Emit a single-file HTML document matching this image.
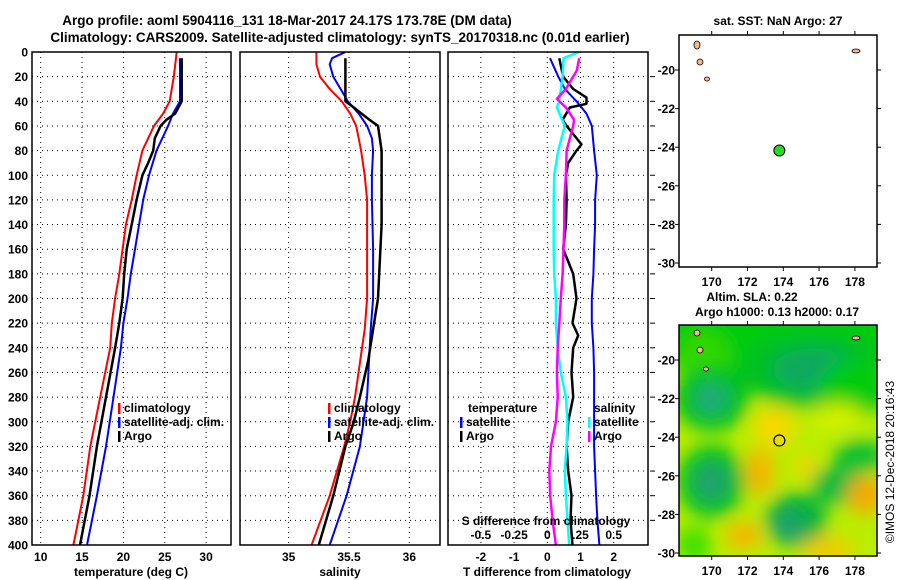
<!DOCTYPE html>
<html><head><meta charset="utf-8">
<style>
html,body{margin:0;padding:0;background:#fff;}
svg{display:block;font-family:"Liberation Sans",Arial,sans-serif;font-weight:bold;}
</style></head>
<body>
<svg id="fig" width="900" height="580" viewBox="0 0 900 580" xmlns="http://www.w3.org/2000/svg">
<defs>
<clipPath id="c1"><rect x="32" y="52" width="199" height="493"/></clipPath>
<clipPath id="c2"><rect x="240" y="52" width="200" height="493"/></clipPath>
<clipPath id="c3"><rect x="448" y="52" width="200" height="493"/></clipPath>
<clipPath id="cm"><rect x="679" y="325" width="198" height="231"/></clipPath>
<filter id="blur" x="-50%" y="-50%" width="200%" height="200%"><feGaussianBlur stdDeviation="9"/></filter>
</defs>
</svg>
<script>
// ---------- data ----------
const depthTicks=[0,20,40,60,80,100,120,140,160,180,200,220,240,260,280,300,320,340,360,380,400];
const tempTicks=[10,15,20,25,30];
const salTicks=[35,35.5,36];
const tdiffTicks=[-2,-1,0,1,2];
const sdiffTicks=[-0.5,-0.25,0,0.25,0.5];
const sdiffLabels=["-0.5","-0.25","0",".25","0.5"];

const climTDepth=[0,20,40,50,60,80,100,120,140,160,180,200,220,240,280,320,360,400];
const climT=[26.45,26.1,25.6,24.8,23.7,22.3,21.6,21.0,20.3,19.9,19.5,19.0,18.6,18.4,17.2,16.0,15.15,13.95];
const satTDepth=[5,40,50,60,80,100,120,140,160,180,200,220,240,280,320,360,400];
const satT=[26.85,26.85,26.0,25.4,24.0,23.1,22.4,21.9,21.4,20.9,20.5,20.0,19.7,18.8,17.9,16.8,15.6];
const argoTDepth=[5,40,50,55,60,70,80,90,100,120,140,160,180,200,220,240,280,320,360,400];
const argoT=[27.05,27.05,26.25,25.2,24.5,23.8,23.6,23.0,22.3,21.6,21.0,20.4,20.1,19.9,19.5,19.0,17.9,16.8,15.9,14.75];

const climSDepth=[0,10,20,30,40,50,60,80,100,120,160,200,225,280,300,320,360,400];
const climS=[35.23,35.23,35.26,35.34,35.44,35.51,35.56,35.60,35.63,35.65,35.65,35.65,35.63,35.55,35.51,35.46,35.34,35.19];
const satSDepth=[0,5,10,20,30,40,50,60,70,80,100,120,160,200,225,280,300,320,360,400];
const satS=[35.47,35.36,35.34,35.37,35.43,35.49,35.58,35.65,35.69,35.70,35.69,35.69,35.70,35.70,35.68,35.65,35.62,35.59,35.48,35.34];
const argoSDepth=[5,40,45,55,60,80,140,160,200,225,250,280,300,320,360,400];
const argoS=[35.47,35.47,35.54,35.67,35.74,35.77,35.77,35.76,35.74,35.70,35.66,35.59,35.54,35.47,35.37,35.25];

const diffDepth=[5,20,30,40,50,60,80,100,120,140,160,180,200,220,240,260,280,300,320,340,360,380,400];
const satTDiff=[0.08,0.33,0.53,0.88,1.18,1.34,1.41,1.49,1.44,1.44,1.41,1.39,1.34,1.34,1.39,1.41,1.41,1.41,1.41,1.44,1.47,1.51,1.57];
const argoTDiffDepth=[5,20,30,37,42,45,55,60,75,80,90,100,120,140,160,170,180,200,220,230,240,260,280,300,320,340,360,380,400];
const argoTDiff=[0.36,0.48,0.78,1.18,1.18,0.68,0.46,0.58,1.03,0.88,0.63,0.56,0.58,0.56,0.48,0.63,0.78,0.88,0.76,0.93,0.78,0.73,0.78,0.63,0.58,0.63,0.73,0.70,0.76];
const satSDiffDepth=[0,5,20,40,45,60,80,100,120,140,160,180,200,220,240,260,280,300,320,340,360,380,400];
const satSDiff=[0.24,0.122,0.115,0.09,0.072,0.132,0.082,0.052,0.048,0.048,0.048,0.052,0.065,0.065,0.078,0.102,0.14,0.152,0.145,0.132,0.14,0.152,0.165];
const argoSDiffDepth=[5,15,30,38,45,55,60,80,100,120,140,160,180,200,220,240,260,280,300,320,340,360,380,400];
const argoSDiff=[0.24,0.222,0.14,0.072,0.14,0.202,0.195,0.145,0.14,0.128,0.128,0.122,0.115,0.102,0.09,0.078,0.072,0.078,0.065,0.028,0.015,0.022,0.04,0.065];

const lonTicks=[170,172,174,176,178];
const latTicks=[-20,-22,-24,-26,-28,-30];
const argoLon=173.78, argoLat=-24.17;
const slaBase="#b8ee00";
const blobLon=[174,169.5,175.6,175.8,170,170,178,170,170,178.3,177,174.7,174.3,169,173.5,172.7,171.8,178.6,176.5,175.3,177];
const blobLat=[-18.9,-20,-20.5,-20.5,-22,-22,-21.5,-26.3,-26.3,-25,-26.5,-28.3,-28.6,-29.6,-23.5,-25.8,-29.1,-27,-29.8,-25.5,-23];
const blobRx=[8,1.5,4,2.4,2.1,0.9,2,1.9,1,1.5,1.4,1.7,0.8,1,1.2,0.8,1,1,1.5,0.6,1.5];
const blobRy=[2.2,1.5,2,1.1,1.7,0.8,1.5,1.9,1,0.9,1,1.4,0.8,1,1,1.2,0.7,1,0.6,0.6,0.8];
const blobCol=["#00cc10","#30d800","#00c020","#10a860","#00c020","#20a880","#00cc10","#00c020","#20a070","#10c030","#00b840","#00b040","#20a070","#40e000","#f8d800","#f8b400","#f8b400","#f8a800","#f8c800","#f8d000","#d0f000"];

// ---------- scales ----------
const Y=d=>52+d*1.2325;
const TX=t=>40.7+(t-10)*8.27;
const SX=s=>349+(s-35.5)*120.7;
const DX=v=>547.3+v*33.2;
const SDX=v=>547.3+v*4*33.2;
const LONX=l=>711.7+(l-170)*17.9;
const LATY1=l=>70+(-20-l)*19.3;
const LATY2=l=>360+(-20-l)*19.3;

const NS="http://www.w3.org/2000/svg";
const svg=document.getElementById('fig');
function mk(tag,attrs,parent,text){const e=document.createElementNS(NS,tag);for(const k in attrs)e.setAttribute(k,attrs[k]);if(text!==undefined)e.textContent=text;(parent||svg).appendChild(e);return e;}
function txt(x,y,s,anchor,size,parent){return mk('text',{x:x,y:y,'text-anchor':anchor||'middle','font-size':size||12,fill:'#000'},parent,s);}
function poly(xs,ys,color,w,clip,name){const pts=xs.map((x,i)=>x.toFixed(1)+','+ys[i].toFixed(1)).join(' ');
  const p=mk('polyline',{points:pts,fill:'none',stroke:color,'stroke-width':w,'clip-path':'url(#'+clip+')','stroke-linejoin':'round'});
  
  
  return p;}

// titles
let t=txt(287,25,"Argo profile: aoml 5904116_131 18-Mar-2017 24.17S 173.78E (DM data)",'middle',13.5);


t=txt(340,42,"Climatology: CARS2009. Satellite-adjusted climatology: synTS_20170318.nc (0.01d earlier)",'middle',13.5);



// panels
const panels=[{x:32,w:199,clip:'c1',name:'temperature-panel'},{x:240,w:200,clip:'c2',name:'salinity-panel'},{x:448,w:200,clip:'c3',name:'difference-panel'}];
panels.forEach(p=>{
  const g=mk('g',{});
  
  
  depthTicks.forEach(d=>{ if(d>0&&d<400) mk('line',{x1:p.x,x2:p.x+p.w,y1:Y(d),y2:Y(d),stroke:'#000','stroke-width':1,'stroke-dasharray':'1,4'},g); });
  p.g=g;
});
tempTicks.forEach(v=>mk('line',{x1:TX(v),x2:TX(v),y1:52,y2:545,stroke:'#000','stroke-dasharray':'1,4'},panels[0].g));
salTicks.forEach(v=>mk('line',{x1:SX(v),x2:SX(v),y1:52,y2:545,stroke:'#000','stroke-dasharray':'1,4'},panels[1].g));
tdiffTicks.forEach(v=>mk('line',{x1:DX(v),x2:DX(v),y1:52,y2:545,stroke:'#000','stroke-dasharray':'1,4'},panels[2].g));
// right ticks of diff panel
depthTicks.forEach(d=>{ if(d>0&&d<400) mk('line',{x1:650,x2:655,y1:Y(d),y2:Y(d),stroke:'#000','stroke-width':1}); });

// depth labels
depthTicks.forEach(d=>{const e=txt(28,Y(d)+4.5,String(d),'end',12);
  
  });
tempTicks.forEach(v=>{const e=txt(TX(v),561,String(v),'middle',12);
  
  });
salTicks.forEach(v=>{const e=txt(SX(v),561,String(v),'middle',12);
  
  });
tdiffTicks.forEach(v=>{const e=txt(DX(v),561,String(v),'middle',12);
  
  });
t=txt(131,576,"temperature (deg C)",'middle',12);


t=txt(340,576,"salinity",'middle',12);


t=txt(547,576,"T difference from climatology",'middle',12);



// series
poly(climT.map(TX),climTDepth.map(Y),'#ff0000',2,'c1','temp-climatology-line');
poly(satT.map(TX),satTDepth.map(Y),'#0000ff',2,'c1','temp-satellite-line');
poly(argoT.map(TX),argoTDepth.map(Y),'#000',2.5,'c1','temp-argo-line');
poly(climS.map(SX),climSDepth.map(Y),'#ff0000',2,'c2','sal-climatology-line');
poly(satS.map(SX),satSDepth.map(Y),'#0000ff',2,'c2','sal-satellite-line');
poly(argoS.map(SX),argoSDepth.map(Y),'#000',2.5,'c2','sal-argo-line');
poly(satTDiff.map(DX),diffDepth.map(Y),'#0000ff',2,'c3','tdiff-satellite-line');
poly(argoTDiff.map(DX),argoTDiffDepth.map(Y),'#000',2.5,'c3','tdiff-argo-line');
poly(satSDiff.map(SDX),satSDiffDepth.map(Y),'#00ffff',2.5,'c3','sdiff-satellite-line');
poly(argoSDiff.map(SDX),argoSDiffDepth.map(Y),'#ff00ff',2.5,'c3','sdiff-argo-line');

// frames
panels.forEach(p=>{const r=mk('rect',{x:p.x,y:52,width:p.w,height:493,fill:'none',stroke:'#000','stroke-width':1.5});
  
  });

// legends
function legend(x,y,color,label,name){
  const g=mk('g',{});
  
  
  mk('rect',{x:x,y:y-9,width:2.5,height:11,fill:color},g);
  txt(x+6,y,label,'start',12,g);
}
legend(118,412,'#ff0000','climatology','legend-climatology');
legend(118,426,'#0000ff','satellite-adj. clim.','legend-satellite-adj');
legend(118,440,'#000','Argo','legend-argo');
legend(328,412,'#ff0000','climatology','legend-sal-climatology');
legend(328,426,'#0000ff','satellite-adj. clim.','legend-sal-satellite-adj');
legend(328,440,'#000','Argo','legend-sal-argo');
t=txt(468,412,'temperature','start',12);


t=txt(594,412,'salinity','start',12);


legend(460,426,'#0000ff','satellite','legend-tdiff-satellite');
legend(460,440,'#000','Argo','legend-tdiff-argo');
legend(588,426,'#00ffff','satellite','legend-sdiff-satellite');
legend(588,440,'#ff00ff','Argo','legend-sdiff-argo');
t=txt(546,525,'S difference from climatology','middle',12);


sdiffTicks.forEach((v,i)=>{const e=txt(SDX(v),539,sdiffLabels[i],'middle',12);
  
  });

// maps
function mapAxes(top,bottom,latY,name){
  const g=mk('g',{});
  
  
  mk('rect',{x:679,y:top,width:198,height:bottom-top,fill:'none',stroke:'#000','stroke-width':1.5},g);
  lonTicks.forEach(l=>{mk('line',{x1:LONX(l),x2:LONX(l),y1:top-4,y2:top,stroke:'#000'},g);
    mk('line',{x1:LONX(l),x2:LONX(l),y1:bottom,y2:bottom+4,stroke:'#000'},g);});
  latTicks.forEach(l=>{mk('line',{x1:877,x2:881,y1:latY(l),y2:latY(l),stroke:'#000'},g);
    mk('line',{x1:675,x2:679,y1:latY(l),y2:latY(l),stroke:'#000'},g);});
  return g;
}
// top map
const g1=mapAxes(35,267,LATY1,'sst-map');
[[697,45,3,4],[700,62,3,3],[707,79,2.5,2],[856,51,4,2]].forEach(a=>mk('ellipse',{cx:a[0],cy:a[1],rx:a[2],ry:a[3],fill:'#f4b890',stroke:'#000','stroke-width':0.8},g1));
let dot=mk('circle',{cx:LONX(argoLon),cy:LATY1(argoLat),r:5.5,fill:'#22dd22',stroke:'#000','stroke-width':1},g1);


lonTicks.forEach(l=>txt(LONX(l),286,String(l),'middle',12));
latTicks.forEach(l=>txt(675,LATY1(l)+4.5,String(l),'end',12));
t=txt(778,25,'sat. SST: NaN Argo: 27','middle',12);



// bottom map heatmap
const hm=mk('g',{'clip-path':'url(#cm)'});


mk('rect',{x:679,y:325,width:198,height:231,fill:slaBase},hm);
const hb=mk('g',{filter:'url(#blur)'},hm);
blobLon.forEach((l,i)=>{const e=mk('ellipse',{cx:LONX(l),cy:LATY2(blobLat[i]),rx:blobRx[i]*17.9,ry:blobRy[i]*19.3,fill:blobCol[i]},hb);
  
  });
[[697,333,3,3],[700,350,3,3],[706,369,2.5,2],[856,338,4,2]].forEach(a=>mk('ellipse',{cx:a[0],cy:a[1],rx:a[2],ry:a[3],fill:'#f4b890',stroke:'#000','stroke-width':0.8},hm));
const g2=mapAxes(325,556,LATY2,'sla-map');
dot=mk('circle',{cx:LONX(argoLon),cy:LATY2(argoLat),r:5.5,fill:'none',stroke:'#000','stroke-width':1.2},g2);


lonTicks.forEach(l=>txt(LONX(l),575,String(l),'middle',12));
latTicks.forEach(l=>txt(675,LATY2(l)+4.5,String(l),'end',12));
t=txt(752,301,'Altim. SLA: 0.22','middle',12);


t=txt(777,316,'Argo h1000: 0.13 h2000: 0.17','middle',12);


t=mk('text',{x:0,y:0,'text-anchor':'middle','font-size':12,'font-weight':'normal',fill:'#000',transform:'translate(894,462) rotate(-90)'},svg,'©IMOS 12-Dec-2018 20:16:43');


</script>
</body></html>
